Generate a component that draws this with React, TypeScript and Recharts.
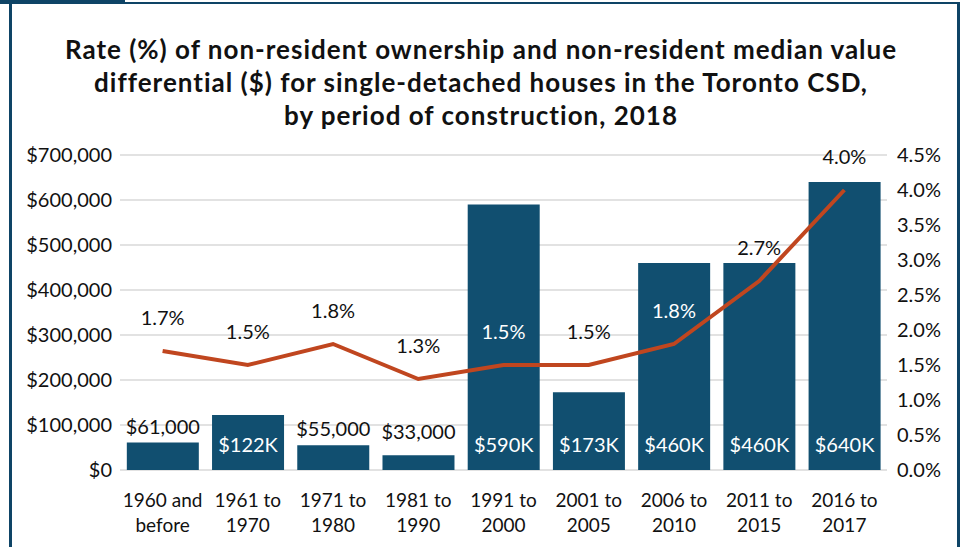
import { Bar, CartesianGrid, ComposedChart, LabelList, Line, XAxis, YAxis } from 'recharts'

const periods = [
  '1960 and|before',
  '1961 to|1970',
  '1971 to|1980',
  '1981 to|1990',
  '1991 to|2000',
  '2001 to|2005',
  '2006 to|2010',
  '2011 to|2015',
  '2016 to|2017',
]
const valueDiff = [61000, 122000, 55000, 33000, 590000, 173000, 460000, 460000, 640000]
const ownershipRate = [1.7, 1.5, 1.8, 1.3, 1.5, 1.5, 1.8, 2.7, 4.0]
const leftTicks = [0, 100000, 200000, 300000, 400000, 500000, 600000, 700000]
const rightTicks = [0, 0.5, 1, 1.5, 2, 2.5, 3, 3.5, 4, 4.5]

const data = periods.map((p, i) => ({ period: p, diff: valueDiff[i], rate: ownershipRate[i] }))

const FONT = 'Lato, "Open Sans", sans-serif'
const BLUE = '#114f70'
const RED = '#c0461f'
const LEFT_MAX = 700000
const RIGHT_MAX = 4.5

const fmtMoney = (v: number) => '$' + v.toLocaleString('en-US')
const fmtBarLabel = (v: number) => (v < 100000 ? fmtMoney(v) : '$' + Math.round(v / 1000) + 'K')

function PeriodTick(props: any) {
  const { x, y, payload } = props
  const lines = String(payload.value).split('|')
  return (
    <text x={x} y={y} textAnchor="middle" fill="#111" fontSize={19} fontFamily={FONT}>
      {lines.map((l, i) => (
        <tspan key={i} x={x} dy={i === 0 ? 29 : 25}>
          {l}
        </tspan>
      ))}
    </text>
  )
}

function BarValueLabel(props: any) {
  const { x, y, width, height, value } = props
  const base = y + height
  const inside = value >= 100000
  const ly = inside ? base - 25 : Math.min(y - 16, base - 38)
  return (
    <text
      x={x + width / 2}
      y={ly}
      dy={7}
      textAnchor="middle"
      fill={inside ? '#fff' : '#111'}
      fontSize={20}
      fontFamily={FONT}
    >
      {fmtBarLabel(value)}
    </text>
  )
}

function RateLabel(props: any) {
  const { x, y, value, index } = props
  // label sits ~0.47% above the point; white when it falls on a bar
  const barInRate = (valueDiff[index] / LEFT_MAX) * RIGHT_MAX
  const onBar = barInRate > value + 0.62
  return (
    <text x={x} y={y - 33} dy={7} textAnchor="middle" fill={onBar ? '#fff' : '#111'} fontSize={20} fontFamily={FONT}>
      {value.toFixed(1)}%
    </text>
  )
}

export default function App() {
  return (
    <div style={{ position: 'absolute', left: 0, top: 0, width: 962, height: 547, background: '#fff', overflow: 'hidden' }}>
      <div style={{ position: 'absolute', left: 0, top: 0, width: 125, height: 4, background: '#0e4466' }} />
      <div
        style={{
          position: 'absolute',
          left: 9,
          top: 2,
          width: 945,
          height: 560,
          borderLeft: '3px solid #0e4466',
          borderRight: '3px solid #0e4466',
          borderTop: '2px solid #0e4466',
        }}
      />
      <div
        style={{
          position: 'absolute',
          left: 0,
          top: 33,
          width: 962,
          textAlign: 'center',
          fontFamily: FONT,
          fontWeight: 700,
          fontSize: 26,
          letterSpacing: 1,
          lineHeight: '33px',
          color: '#111',
        }}
      >
        Rate (%) of non-resident ownership and non-resident median value
        <br />
        differential ($) for single-detached houses in the Toronto CSD,
        <br />
        by period of construction, 2018
      </div>
      <div style={{ position: 'absolute', left: 0, top: 0 }}>
        <ComposedChart
          width={962}
          height={547}
          data={data}
          margin={{ top: 155, right: 0, bottom: 0, left: 0 }}
          barCategoryGap="8%"
        >
          <CartesianGrid yAxisId="left" vertical={false} stroke="#d9d9d9" strokeWidth={1.5} />
          <XAxis
            dataKey="period"
            axisLine={false}
            tickLine={false}
            height={77}
            interval={0}
            tick={<PeriodTick />}
          />
          <YAxis
            yAxisId="left"
            domain={[0, LEFT_MAX]}
            ticks={leftTicks}
            width={120}
            axisLine={false}
            tickLine={false}
            tickSize={0}
            tickMargin={8}
            tickFormatter={fmtMoney}
            tick={{ fill: '#111', fontSize: 20, fontFamily: FONT }}
          />
          <YAxis
            yAxisId="right"
            orientation="right"
            domain={[0, RIGHT_MAX]}
            ticks={rightTicks}
            width={75}
            axisLine={false}
            tickLine={false}
            tickSize={0}
            tickMargin={10}
            tickFormatter={(v: number) => v.toFixed(1) + '%'}
            tick={{ fill: '#111', fontSize: 20, fontFamily: FONT, textAnchor: 'start' }}
          />
          <Bar yAxisId="left" dataKey="diff" fill={BLUE} isAnimationActive={false}>
            <LabelList dataKey="diff" content={<BarValueLabel />} />
          </Bar>
          <Line
            yAxisId="right"
            dataKey="rate"
            stroke={RED}
            strokeWidth={4}
            dot={false}
            activeDot={false}
            type="linear"
            isAnimationActive={false}
          >
            <LabelList dataKey="rate" content={<RateLabel />} />
          </Line>
        </ComposedChart>
      </div>
    </div>
  )
}
